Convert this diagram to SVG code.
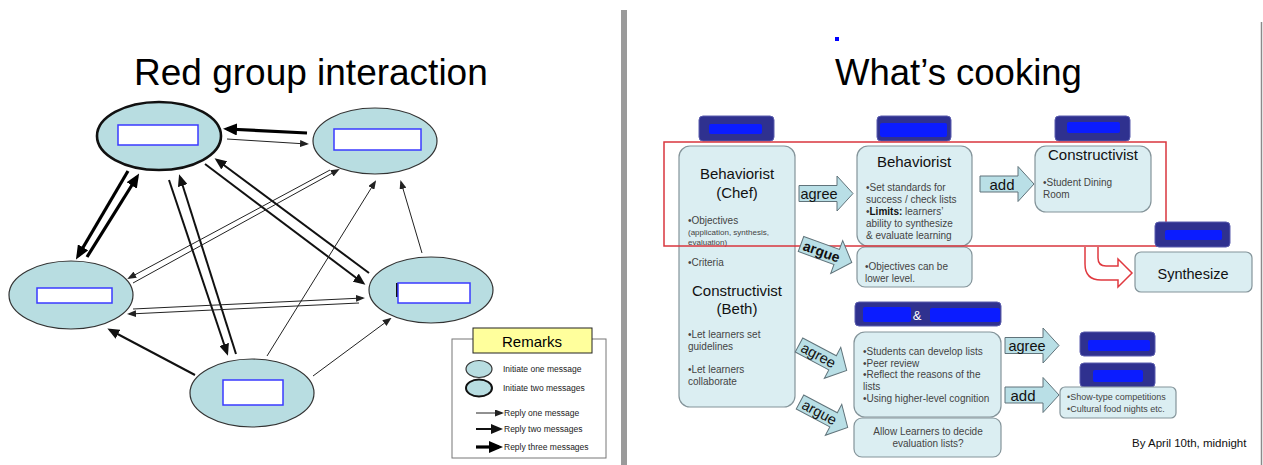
<svg xmlns="http://www.w3.org/2000/svg" xmlns:xlink="http://www.w3.org/1999/xlink" width="1263" height="465" viewBox="0 0 1263 465">
<style>
text{font-family:"Liberation Sans",Arial,sans-serif;}
.node{fill:#b8dde1;stroke:#333;stroke-width:1.2;}
.node2{fill:#b8dde1;stroke:#111;stroke-width:2.6;}
.mask{fill:#fff;stroke:#3a3aff;stroke-width:1.5;}
.c1{stroke:#222;stroke-width:1;fill:none;marker-end:url(#a1);}
.c2{stroke:#111;stroke-width:2;fill:none;marker-end:url(#a2);}
.c3{stroke:#000;stroke-width:3.2;fill:none;marker-end:url(#a3);}
.box{fill:#dbeef2;stroke:#84949a;stroke-width:1.2;}
.lbl{fill:#2f318f;stroke:#5b5dae;stroke-width:1;}
.blob{fill:#0b1cff;}
.blk{fill:#b9dfe6;stroke:#60737a;stroke-width:1;}
.h{font-size:15px;fill:#111;}
.s{font-size:10px;fill:#444;}
.t{font-size:14.5px;fill:#111;}
.leg{font-size:8.5px;fill:#222;}
</style>
<defs>
<marker id="a1" markerUnits="userSpaceOnUse" markerWidth="9" markerHeight="7" refX="7" refY="3.5" orient="auto"><path d="M0,0 L9,3.5 L0,7 Z" fill="#222"/></marker>
<marker id="a2" markerUnits="userSpaceOnUse" markerWidth="12" markerHeight="10" refX="9" refY="5" orient="auto"><path d="M0,0 L12,5 L0,10 Z" fill="#111"/></marker>
<marker id="a3" markerUnits="userSpaceOnUse" markerWidth="14" markerHeight="12" refX="10" refY="6" orient="auto"><path d="M0,0 L14,6 L0,12 Z" fill="#000"/></marker>
<path id="blk" d="M0,-8 L38,-8 L38,-17.5 L54,0 L38,17.5 L38,8 L0,8 Z"/>
</defs>
<rect width="1263" height="465" fill="#fff"/>

<!-- LEFT: Red group interaction -->
<text x="134" y="85" font-size="37" fill="#000">Red group interaction</text>

<g id="connectors">
<path class="c3" d="M307,133 L227,129"/>
<path class="c1" d="M227,139 L307,144"/>
<path class="c3" d="M128,171 L78,256"/>
<path class="c3" d="M87,257 L137,177"/>
<path class="c2" d="M169,180 L227,353"/>
<path class="c2" d="M236,354 L180,177"/>
<path class="c2" d="M205,164 L363,283"/>
<path class="c2" d="M369,273 L217,160"/>
<path class="c1" d="M330,170 L129,278"/>
<path class="c1" d="M133,283 L338,170"/>
<path class="c1" d="M133,309 L363,298"/>
<path class="c1" d="M359,303 L129,314"/>
<path class="c2" d="M195,375 L110,330"/>
<path class="c1" d="M267,356 L375,182"/>
<path class="c1" d="M313,376 L390,319"/>
<path class="c1" d="M422,253 L401,182"/>
</g>

<g id="nodeA"><ellipse class="node2" cx="159" cy="136" rx="62" ry="34"/><rect class="mask" x="118" y="125" width="80" height="20"/></g>
<g id="nodeB"><ellipse class="node" cx="375" cy="141" rx="62" ry="33"/><rect class="mask" x="334" y="129" width="87" height="21"/></g>
<g id="nodeC"><ellipse class="node" cx="71" cy="295" rx="62" ry="34"/><rect class="mask" x="37" y="288" width="75" height="15"/></g>
<g id="nodeD"><ellipse class="node" cx="431" cy="290" rx="62" ry="33"/><rect x="396" y="283" width="3" height="14" fill="#111"/><rect class="mask" x="398" y="283" width="72" height="20"/></g>
<g id="nodeE"><ellipse class="node" cx="252" cy="393" rx="62" ry="34"/><rect class="mask" x="223" y="380" width="60" height="25"/></g>

<g id="remarks">
<rect x="452" y="339" width="154" height="119" fill="#fff" stroke="#777" stroke-width="1"/>
<rect x="473" y="328" width="119" height="25" fill="#ffff9c" stroke="#222" stroke-width="1"/>
<text x="532" y="347" font-size="15" text-anchor="middle" fill="#000">Remarks</text>
<ellipse class="node" cx="479" cy="369" rx="13" ry="8.5"/>
<ellipse cx="479" cy="388" rx="13" ry="8.5" fill="#b8dde1" stroke="#111" stroke-width="2"/>
<text class="leg" x="503" y="372">Initiate one message</text>
<text class="leg" x="503" y="391">Initiate two messages</text>
<path class="c1" d="M476,413 L502,413"/>
<path class="c2" d="M476,429 L500,429"/>
<path class="c3" d="M476,447 L499,447"/>
<text class="leg" x="504" y="416">Reply one message</text>
<text class="leg" x="504" y="432">Reply two messages</text>
<text class="leg" x="504" y="450">Reply three messages</text>
</g>

<!-- separator -->
<rect x="621" y="10" width="6" height="455" fill="#9a9a9a"/>
<line x1="1261.5" y1="22" x2="1261.5" y2="465" stroke="#8a8a8a" stroke-width="1.5"/>

<!-- RIGHT: What's cooking -->
<rect x="835" y="37" width="4" height="4" fill="#0000ff"/>
<text x="835" y="85" font-size="36.5" fill="#000">What’s cooking</text>

<g id="lbl1"><rect class="lbl" x="699" y="116" width="75" height="25" rx="4"/><rect class="blob" x="709" y="124" width="53" height="10" rx="2"/></g>
<g id="lbl2"><rect class="lbl" x="877" y="116" width="74" height="25" rx="4"/><rect class="blob" x="880" y="123" width="67" height="14" rx="2"/></g>
<g id="lbl3"><rect class="lbl" x="1055" y="116" width="75" height="25" rx="4"/><rect class="blob" x="1067" y="122" width="53" height="11" rx="2"/></g>

<g id="leftBox">
<rect class="box" x="679" y="146" width="116" height="261" rx="11"/>
<text class="h" x="737" y="179" text-anchor="middle">Behaviorist</text>
<text class="h" x="737" y="198" text-anchor="middle">(Chef)</text>
<text class="s" x="688" y="224">•Objectives</text>
<text x="688" y="235" font-size="8" fill="#444">(application, synthesis,</text>
<text x="688" y="245" font-size="8" fill="#444">evaluation)</text>
<text class="s" x="688" y="266">•Criteria</text>
<text class="h" x="737" y="296" text-anchor="middle">Constructivist</text>
<text class="h" x="737" y="314" text-anchor="middle">(Beth)</text>
<text class="s" x="688" y="338">•Let learners set</text>
<text class="s" x="688" y="350">guidelines</text>
<text class="s" x="688" y="373">•Let learners</text>
<text class="s" x="688" y="385">collaborate</text>
</g>

<g id="behavBox">
<rect class="box" x="857" y="146" width="115" height="100" rx="11"/>
<text class="h" x="914" y="167" text-anchor="middle">Behaviorist</text>
<text class="s" x="866" y="191">•Set standards for</text>
<text class="s" x="866" y="203">success / check lists</text>
<text class="s" x="866" y="215">•<tspan font-weight="bold" fill="#111">Limits:</tspan> learners’</text>
<text class="s" x="866" y="227">ability to synthesize</text>
<text class="s" x="866" y="239">&amp; evaluate learning</text>
</g>
<g id="lowerBox"><rect class="box" x="857" y="247" width="115" height="40" rx="8"/>
<text class="s" x="865" y="270">•Objectives can be</text>
<text class="s" x="865" y="282">lower level.</text></g>

<g id="constrBox">
<rect class="box" x="1035" y="146" width="116" height="66" rx="11"/>
<text class="h" x="1093" y="160" text-anchor="middle">Constructivist</text>
<text class="s" x="1043" y="186">•Student Dining</text>
<text class="s" x="1043" y="198">Room</text>
</g>

<rect x="664" y="142" width="502" height="104" fill="none" stroke="#d9363e" stroke-width="1.5"/>

<g id="lbl4"><rect class="lbl" x="1155" y="222" width="75" height="25" rx="4"/><rect class="blob" x="1165" y="230" width="57" height="10" rx="2"/></g>
<g id="redArrow"><path d="M1085,247 L1085,264 Q1085,280 1101,280 L1118,280 L1118,287 L1132,273 L1118,259 L1118,266 L1106,266 Q1098,266 1098,258 L1098,247" fill="#fff" stroke="#e0393f" stroke-width="1.5"/></g>
<g id="synth"><rect class="box" x="1135" y="252" width="117" height="40" rx="6"/>
<text x="1193" y="279" font-size="14.5" text-anchor="middle" fill="#111">Synthesize</text></g>

<g id="lbl5"><rect class="lbl" x="855" y="302" width="146" height="24" rx="4"/><rect class="blob" x="863" y="307" width="48" height="15" rx="2"/><rect class="blob" x="930" y="308" width="70" height="14" rx="2"/><text x="917" y="320" font-size="13" text-anchor="middle" fill="#fff">&amp;</text></g>
<g id="studBox">
<rect class="box" x="854" y="332" width="147" height="85" rx="11"/>
<text class="s" x="863" y="355">•Students can develop lists</text>
<text class="s" x="863" y="366.5">•Peer review</text>
<text class="s" x="863" y="378">•Reflect the reasons of the</text>
<text class="s" x="863" y="390">lists</text>
<text class="s" x="863" y="401.5">•Using higher-level cognition</text>
</g>
<g id="allowBox"><rect class="box" x="854" y="418" width="147" height="39" rx="8"/>
<text class="s" x="928" y="435" text-anchor="middle">Allow Learners to decide</text>
<text class="s" x="928" y="447" text-anchor="middle">evaluation lists?</text></g>

<g id="lbl6"><rect class="lbl" x="1080" y="332" width="75" height="24" rx="4"/><rect class="blob" x="1088" y="340" width="62" height="11" rx="2"/></g>
<g id="lbl7"><rect class="lbl" x="1080" y="363" width="75" height="24" rx="4"/><rect class="blob" x="1093" y="370" width="50" height="12" rx="2"/></g>
<g id="showBox"><rect class="box" x="1060" y="387" width="116" height="31" rx="5"/>
<text x="1067" y="400" font-size="9" fill="#444">•Show-type competitions</text>
<text x="1067" y="412" font-size="9" fill="#444">•Cultural food nights etc.</text></g>

<g id="blockArrows">
<g transform="translate(799,193.5)"><use xlink:href="#blk" class="blk"/><text class="t" x="20" y="5" text-anchor="middle">agree</text></g>
<g transform="translate(980,184)"><use xlink:href="#blk" class="blk"/><text x="22" y="5.5" font-size="15" text-anchor="middle" fill="#111">add</text></g>
<g transform="translate(1005,345.5)"><use xlink:href="#blk" class="blk"/><text class="t" x="22" y="5" text-anchor="middle">agree</text></g>
<g transform="translate(1005,395)"><use xlink:href="#blk" class="blk"/><text x="18" y="5.5" font-size="15" text-anchor="middle" fill="#111">add</text></g>
<g transform="translate(801,244) rotate(20)"><use xlink:href="#blk" class="blk"/><text x="22" y="5" font-size="14" font-weight="bold" text-anchor="middle" fill="#111">argue</text></g>
<g transform="translate(799,345) rotate(28)"><use xlink:href="#blk" class="blk"/><text class="t" x="22" y="5" font-size="14" text-anchor="middle">agree</text></g>
<g transform="translate(800,402) rotate(28)"><use xlink:href="#blk" class="blk"/><text class="t" x="22" y="5" font-size="14" text-anchor="middle">argue</text></g>
</g>

<text x="1132" y="447" font-size="11.5" fill="#111">By April 10th, midnight</text>
</svg>
